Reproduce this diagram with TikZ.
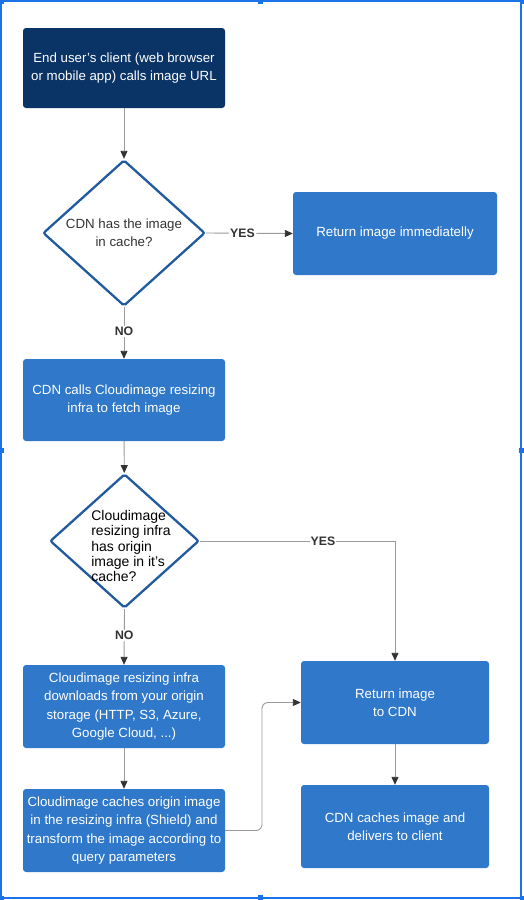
\documentclass[tikz,border=0pt]{standalone}
\usepackage{fontspec}
\setmainfont{Liberation Sans}
\usetikzlibrary{shapes.geometric,arrows.meta}
\definecolor{navy}{HTML}{0A3366}
\definecolor{boxblue}{HTML}{2F78CA}
\definecolor{dstroke}{HTML}{215A9E}
\definecolor{linegray}{HTML}{9A9A9A}
\definecolor{tipdark}{HTML}{333333}
\definecolor{framebl}{HTML}{1A73E8}
\tikzset{
  procbox/.style={rectangle, rounded corners=3pt, fill=boxblue, text=white, minimum width=202pt, minimum height=83pt, inner sep=2pt, align=center, font=\fontsize{13.3}{18.3}\selectfont},
  decision/.style={diamond, draw=dstroke, line width=2.3pt, fill=white, rounded corners=2pt, inner sep=0pt, align=center, text=tipdark},
  conn/.style={draw=linegray, line width=0.9pt, -{Triangle[length=8pt,width=7pt,color=tipdark]}},
  plainconn/.style={draw=linegray, line width=0.9pt},
  lbl/.style={fill=white, inner sep=1pt, text=tipdark, font=\fontsize{12.3}{13}\selectfont\bfseries},
  handle/.style={fill=framebl, draw=none, minimum size=5pt, inner sep=0pt}
}
\begin{document}
\begin{tikzpicture}[x=1pt,y=-1pt]
\useasboundingbox (0,0) rectangle (523,900);
% frame
\draw[framebl, line width=1.3pt] (1,1) rectangle (521,898);
\node[handle] (h1) at (260,1.5) {};
\node[handle] (h2) at (260,897.5) {};
\node[handle] (h3) at (1.5,450) {};
\node[handle] (h4) at (521.5,450) {};
\node[handle, minimum size=4pt] (h5) at (1.5,1.5) {};
\node[handle, minimum size=4pt] (h6) at (521.5,1.5) {};
\node[handle, minimum size=4pt] (h7) at (1.5,897.5) {};
\node[handle, minimum size=4pt] (h8) at (521.5,897.5) {};

\node[procbox, fill=navy, minimum height=80pt] (start) at (124,68) {End user's client (web browser\\or mobile app) calls image URL};
\node[decision, minimum width=162pt, minimum height=146pt, font=\fontsize{13.3}{18.3}\selectfont] (d1) at (124,233) {CDN has the image\\in cache?};
\node[procbox, minimum width=204pt] (ret1) at (395,233.5) {Return image immediatelly};
\node[procbox, minimum height=82pt] (calls) at (124,400) {CDN calls Cloudimage resizing\\infra to fetch image};
\node[decision, minimum width=149pt, minimum height=134pt] (d2) at (124.5,541) {};
\node[align=left, inner sep=0pt, text=black, font=\fontsize{14}{15.2}\selectfont] (d2t) at (131,546) {Cloudimage\\resizing infra\\has origin\\image in it's\\cache?};
\node[procbox] (down) at (124,706.5) {Cloudimage resizing infra\\downloads from your origin\\storage (HTTP, S3, Azure,\\Google Cloud, ...)};
\node[procbox] (cache) at (124,830.5) {Cloudimage caches origin image\\in the resizing infra (Shield) and\\transform the image according to\\query parameters};
\node[procbox, minimum width=188pt] (ret2) at (395,702.5) {Return image\\to CDN};
\node[procbox, minimum width=188pt] (cdnc) at (395,826.5) {CDN caches image and\\delivers to client};

\draw[conn] (start) -- (d1);
\draw[conn] (d1.east) -- node[lbl, pos=0.42] (yes1) {YES} (ret1.west);
\draw[conn] (d1.south) -- node[lbl, pos=0.47] (no1) {NO} (calls.north);
\draw[conn] (calls) -- (d2);
\coordinate (c2) at (ret2.north |- d2.east);
\draw[plainconn] (d2.east) -- node[lbl, pos=0.63] (yes2) {YES} (c2);
\draw[conn, rounded corners=3pt] (c2) -- (ret2.north);
\draw[conn] (d2.south) -- node[lbl, pos=0.47] (no2) {NO} (down.north);
\draw[conn] (down) -- (cache);
\coordinate (m1) at (262,830.5);
\draw[conn, rounded corners=6pt] (cache.east) -- (m1) -- (m1 |- ret2.west) -- (ret2.west);
\draw[conn] (ret2) -- (cdnc);
\end{tikzpicture}
\end{document}
